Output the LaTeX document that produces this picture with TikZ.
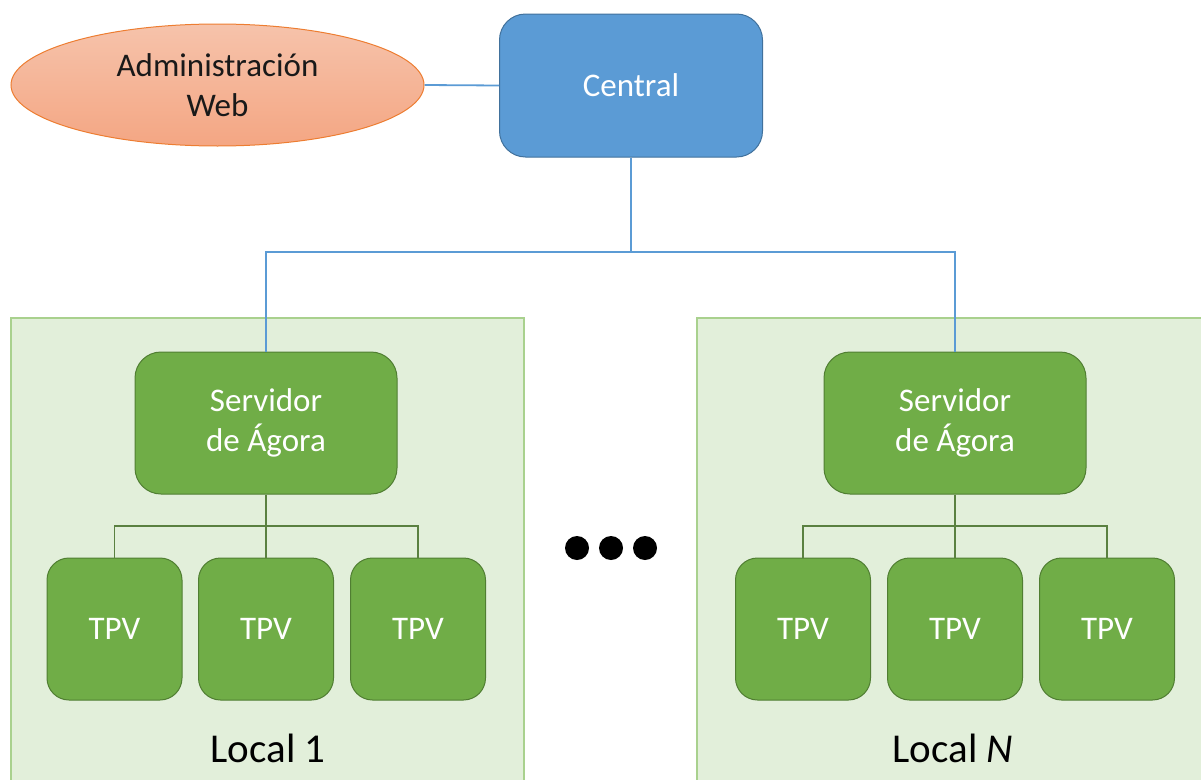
\documentclass[tikz,border=0pt]{standalone}
\usepackage{fontspec}
\setmainfont{Carlito}
\usetikzlibrary{shapes.geometric}
\definecolor{ellfillA}{HTML}{F6C3AB}
\definecolor{ellfillB}{HTML}{F4A683}
\definecolor{elldraw}{HTML}{ED7D31}
\definecolor{bluefill}{HTML}{5B9BD5}
\definecolor{bluedraw}{HTML}{41719C}
\definecolor{greenfill}{HTML}{70AD47}
\definecolor{greendraw}{HTML}{507E32}
\definecolor{localfill}{HTML}{E2EFDA}
\definecolor{localdraw}{HTML}{A9D18E}
\definecolor{greenline}{HTML}{5A8040}
\tikzset{
  basefont/.style={font=\fontsize{33}{40}\selectfont},
  ellbox/.style={ellipse, minimum width=413pt, minimum height=122pt, inner sep=0pt,
    top color=ellfillA, bottom color=ellfillB, draw=elldraw, line width=1pt,
    text=black!90, align=center, basefont},
  centralbox/.style={rectangle, rounded corners=26pt, minimum width=263pt, minimum height=143pt,
    inner sep=0pt, fill=bluefill, draw=bluedraw, line width=1pt, text=white, align=center, basefont},
  serverbox/.style={rectangle, rounded corners=26pt, minimum width=262pt, minimum height=142pt,
    inner sep=0pt, fill=greenfill, draw=greendraw, line width=1pt, text=white, align=center, basefont},
  tpvbox/.style={rectangle, rounded corners=22pt, minimum width=135pt, minimum height=142pt,
    inner sep=0pt, fill=greenfill, draw=greendraw, line width=1pt, text=white, basefont},
  localbox/.style={fill=localfill, draw=localdraw, line width=1.5pt},
  locallabel/.style={text=black, font=\fontsize{41}{48}\selectfont, inner sep=0pt},
  blueline/.style={draw=bluefill, line width=1.8pt},
  greenconn/.style={draw=greenline, line width=1.3pt},
  dotmark/.style={circle, fill=black, minimum size=24pt, inner sep=0pt}
}
\begin{document}
\begin{tikzpicture}[x=1pt,y=-1pt]
\useasboundingbox (0,0) rectangle (1201,779);
\clip (0,0) rectangle (1201,779);
% local backgrounds
\draw[localbox] (11,318) rectangle (524,800);
\draw[localbox] (697,318) rectangle (1215,800);
% nodes
\node[ellbox] (admin) at (217.5,85) {Administración\\Web};
\node[centralbox] (central) at (631,85.5) {Central};
\node[serverbox] (srvL) at (266,423) {Servidor\\de Ágora};
\node[serverbox] (srvR) at (955,423) {Servidor\\de Ágora};
\node[tpvbox] (tL1) at (114.5,629) {TPV};
\node[tpvbox] (tL2) at (266,629) {TPV};
\node[tpvbox] (tL3) at (418,629) {TPV};
\node[tpvbox] (tR1) at (803,629) {TPV};
\node[tpvbox] (tR2) at (955,629) {TPV};
\node[tpvbox] (tR3) at (1107,629) {TPV};
\node[locallabel] (lab1) at (268,748) {Local 1};
\node[locallabel] (labN) at (953,748) {Local \textit{N}};
\node[dotmark] (d1) at (577,548) {};
\node[dotmark] (d2) at (611,548) {};
\node[dotmark] (d3) at (645,548) {};
% coordinates
\coordinate (bus) at (631,252);
\coordinate (jL) at (266,526);
\coordinate (jR) at (955,526);
% connectors
\draw[blueline] (admin.east) -- (central.west);
\draw[blueline] (central.south) -- (bus);
\draw[blueline] (srvL.north) |- (bus) -| (srvR.north);
\draw[greenconn] (srvL.south) -- (tL2.north);
\draw[greenconn] (tL1.north) |- (jL) -| (tL3.north);
\draw[greenconn] (srvR.south) -- (tR2.north);
\draw[greenconn] (tR1.north) |- (jR) -| (tR3.north);
\end{tikzpicture}
\end{document}
